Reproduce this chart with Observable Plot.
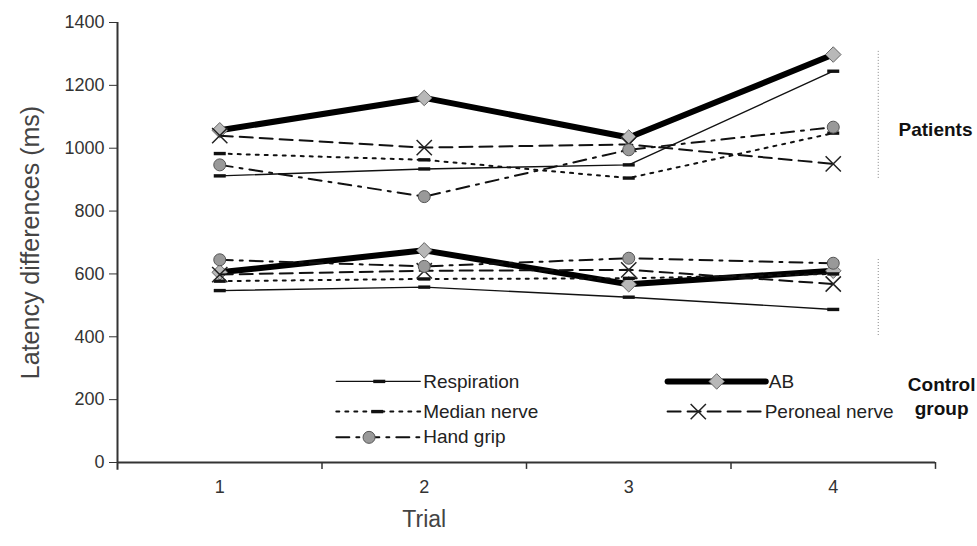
<!DOCTYPE html>
<html><head><meta charset="utf-8">
<script src="https://cdn.jsdelivr.net/npm/d3@7"></script>
<script src="https://cdn.jsdelivr.net/npm/@observablehq/plot@0.6"></script>
<style>
body{margin:0;background:#fff}
#chart svg{display:block}
</style>
</head><body><div id="chart"></div>
<script>
// ---- data ----
const trials = [1, 2, 3, 4];
const seriesNames = ["Respiration", "AB", "Median nerve", "Peroneal nerve", "Hand grip"];
const patientsRespiration = [912, 934, 947, 1245];
const patientsAB = [1057, 1160, 1034, 1298];
const patientsMedian = [983, 963, 905, 1048];
const patientsPeroneal = [1040, 1002, 1012, 950];
const patientsHandGrip = [947, 846, 995, 1067];
const controlRespiration = [547, 558, 526, 487];
const controlAB = [605, 675, 567, 610];
const controlMedian = [577, 584, 586, 600];
const controlPeroneal = [598, 610, 613, 568];
const controlHandGrip = [645, 624, 650, 634];
const yTicks = [0, 200, 400, 600, 800, 1000, 1200, 1400];
const xBoundaries = [1.5, 2.5, 3.5, 4.5];
const groupNames = ["Patients", "Control group"];

// ---- build table ----
const patientsSeries = [patientsRespiration, patientsAB, patientsMedian, patientsPeroneal, patientsHandGrip];
const controlSeries = [controlRespiration, controlAB, controlMedian, controlPeroneal, controlHandGrip];
const rows = [];
seriesNames.forEach((s, i) => {
  trials.forEach((t, j) => {
    rows.push({series: s, group: groupNames[0], trial: t, value: patientsSeries[i][j]});
    rows.push({series: s, group: groupNames[1], trial: t, value: controlSeries[i][j]});
  });
});

// ---- styles ----
const dashSymbol = {draw(ctx) { ctx.moveTo(-6, -1.7); ctx.lineTo(6, -1.7); ctx.lineTo(6, 1.7); ctx.lineTo(-6, 1.7); ctx.closePath(); }};
const styles = {
  "Respiration":    {line: {stroke: "#111", strokeWidth: 1.4}, dot: {symbol: dashSymbol, fill: "#111", stroke: "none", r: 4}},
  "AB":             {line: {stroke: "#000", strokeWidth: 6}, dot: {symbol: "diamond2", fill: "#b8b8b8", stroke: "#666", strokeWidth: 1, r: 7}},
  "Median nerve":   {line: {stroke: "#111", strokeWidth: 2, strokeDasharray: "3,6"}, dot: {symbol: dashSymbol, fill: "#111", stroke: "none", r: 4}},
  "Peroneal nerve": {line: {stroke: "#111", strokeWidth: 2, strokeDasharray: "13,7"}, dot: {symbol: "times", fill: "none", stroke: "#222", strokeWidth: 1.5, r: 7}},
  "Hand grip":      {line: {stroke: "#111", strokeWidth: 2, strokeDasharray: "13,7,3,7"}, dot: {symbol: "circle", fill: "#999", stroke: "#555", strokeWidth: 1, r: 6}}
};

// legend layout (data-space anchors)
const legendLayout = {
  "Respiration":    {x0: 1.57, x1: 1.98, xm: 1.78, y: 258},
  "AB":             {x0: 3.19, x1: 3.67, xm: 3.43, y: 258},
  "Median nerve":   {x0: 1.57, x1: 1.98, xm: 1.77, y: 162},
  "Peroneal nerve": {x0: 3.19, x1: 3.65, xm: 3.34, y: 162},
  "Hand grip":      {x0: 1.57, x1: 1.98, xm: 1.73, y: 80}
};

const marks = [];
// axes
marks.push(Plot.ruleY([0], {stroke: "#333", strokeWidth: 2}));
marks.push(Plot.ruleX([0.5], {y1: -25, y2: 1400, stroke: "#333", strokeWidth: 2}));
marks.push(Plot.axisY({ticks: yTicks, tickSize: 8, tickPadding: 5, tickFormat: d => String(d), fontSize: 18, fill: "#333", stroke: "#333", label: null}));
marks.push(Plot.axisX({ticks: trials, tickSize: 0, tickPadding: 18, tickFormat: d => String(d), fontSize: 18, fill: "#333", label: null}));
marks.push(Plot.ruleX(xBoundaries, {y1: 0, y2: -22, stroke: "#333", strokeWidth: 1.5}));

// series
seriesNames.forEach(s => {
  const data = rows.filter(r => r.series === s);
  marks.push(Plot.line(data, {x: "trial", y: "value", z: "group", ...styles[s].line}));
  marks.push(Plot.dot(data, {x: "trial", y: "value", ...styles[s].dot}));
});

// separators and group labels
marks.push(Plot.ruleX([4.22], {y1: 904, y2: 1311, stroke: "#888", strokeWidth: 1, strokeDasharray: "1,2"}));
marks.push(Plot.ruleX([4.22], {y1: 404, y2: 649, stroke: "#888", strokeWidth: 1, strokeDasharray: "1,2"}));
marks.push(Plot.text([groupNames[0]], {x: 4.5, y: 1057, text: d => d, fontSize: 19, fontWeight: "bold", fill: "#111"}));
marks.push(Plot.text(["Control\ngroup"], {x: 4.53, y: 213, text: d => d, fontSize: 19, fontWeight: "bold", fill: "#111", lineHeight: 1.25}));

// legend
seriesNames.forEach(s => {
  const L = legendLayout[s];
  marks.push(Plot.line([[L.x0, L.y], [L.x1, L.y]], {...styles[s].line, strokeWidth: Math.min(styles[s].line.strokeWidth, s === "AB" ? 6 : 2)}));
  marks.push(Plot.dot([[L.xm, L.y]], {...styles[s].dot}));
  marks.push(Plot.text([s], {x: L.x1, y: L.y, text: d => d, textAnchor: "start", dx: 3, fontSize: 19, fill: "#222"}));
});

// axis titles
marks.push(Plot.text(["Latency differences (ms)"], {frameAnchor: "left", textAnchor: "middle", rotate: -90, dx: -87, fontSize: 25, fill: "#444"}));
marks.push(Plot.text(["Trial"], {x: 2, frameAnchor: "bottom", dy: 64, fontSize: 23, fill: "#444"}));

const chart = Plot.plot({
  width: 977,
  height: 546,
  marginLeft: 117,
  marginRight: 42,
  marginTop: 22,
  marginBottom: 84,
  style: {fontFamily: "'Liberation Sans', Arial, sans-serif", background: "#fff"},
  x: {domain: [0.5, 4.5], axis: null},
  y: {domain: [0, 1400], axis: null},
  marks
});
document.getElementById("chart").append(chart);
</script>
</body></html>
